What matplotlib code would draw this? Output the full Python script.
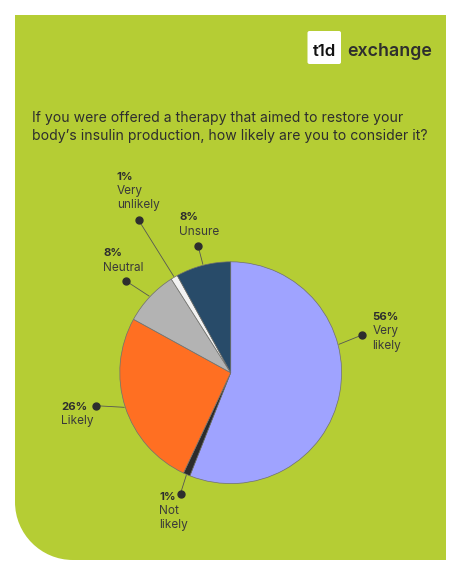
import numpy as np
import matplotlib
matplotlib.use("Agg")
import matplotlib.pyplot as plt
from matplotlib.patches import PathPatch, FancyBboxPatch
from matplotlib.path import Path

plt.rcParams['font.family'] = ['Inter', 'DejaVu Sans']

# data
labels = ["Very likely", "Not likely", "Likely", "Neutral", "Very unlikely", "Unsure"]
values = [56, 1, 26, 8, 1, 8]
pct_labels = ["56%", "1%", "26%", "8%", "1%", "8%"]
colors = ["#9fa3ff", "#2b2b2b", "#ff6f22", "#b3b3b3", "#f2f2f2", "#284b69"]

title = ("If you were offered a therapy that aimed to restore your\n"
         "body\u2019s insulin production, how likely are you to consider it?")

# layout (pixels, y down)
W, H = 461, 576
cx, cy, r = 230.7, 372.7, 112
dot_pos = [(362, 335), (180.5, 493.5), (95.7, 405.7), (126, 281), (138.7, 220.3), (198, 245.7)]
text_pos = [(372.5, 317), (159, 496.7), (61, 406.7), (103.3, 253.3), (116.7, 176.7), (179.3, 217.3)]
anchor_override = {0: 14.7}
green = "#b5cd34"
ink = "#2e2e2e"

fig = plt.figure(figsize=(W / 100, H / 100), dpi=100)
bg = fig.add_axes([0, 0, 1, 1])
bg.set_xlim(0, W)
bg.set_ylim(H, 0)
bg.axis("off")

# green panel with rounded bottom-left corner
x0, x1, y0, y1, rad = 15, 446, 15, 560, 58
k = 0.5523 * rad
verts = [(x0, y0), (x1, y0), (x1, y1), (x0 + rad, y1),
         (x0 + rad - k, y1), (x0, y1 - rad + k), (x0, y1 - rad),
         (x0, y0)]
codes = [Path.MOVETO, Path.LINETO, Path.LINETO, Path.LINETO,
         Path.CURVE4, Path.CURVE4, Path.CURVE4, Path.CLOSEPOLY]
bg.add_patch(PathPatch(Path(verts, codes), facecolor=green, edgecolor="none"))

# logo
bg.add_patch(FancyBboxPatch((307.5, 31), 33.5, 33, boxstyle="round,pad=0,rounding_size=2",
                            facecolor="white", edgecolor="none"))
bg.text(324.2, 55.5, "t1d", fontsize=12, fontweight="semibold", color="#111111",
        va="baseline", ha="center")
bg.text(347, 55.5, "exchange", fontsize=12.8, fontweight="semibold", color=ink, va="baseline")

# question
bg.text(32, 127, title, fontsize=10.1, color=ink, va="center", linespacing=1.35)

# pie
pax = fig.add_axes([(cx - r) / W, 1 - (cy + r) / H, 2 * r / W, 2 * r / H])
wedges, _ = pax.pie(values, colors=colors, startangle=90, counterclock=False,
                    radius=1, wedgeprops=dict(edgecolor="#6f6f6f", linewidth=0.5))
pax.set_xlim(-1.01, 1.01)
pax.set_ylim(-1.01, 1.01)
pax.set_aspect("equal")

for i, w in enumerate(wedges):
    ang = anchor_override.get(i, (w.theta1 + w.theta2) / 2)
    ex = cx + r * np.cos(np.radians(ang))
    ey = cy - r * np.sin(np.radians(ang))
    dx, dy = dot_pos[i]
    bg.plot([ex, dx], [ey, dy], color="#555555", linewidth=0.6, zorder=3)
    bg.plot(dx, dy, "o", color=ink, markersize=5, zorder=4)
    tx, ty = text_pos[i]
    bg.text(tx, ty, pct_labels[i], fontsize=8.2, fontweight="bold", color=ink, va="center")
    for j, line in enumerate(labels[i].split(" ")):
        bg.text(tx, ty + 14.3 * (j + 1), line, fontsize=8.5, color="#3a3a3a", va="center")

fig.savefig("out.png", dpi=100, facecolor="white")
